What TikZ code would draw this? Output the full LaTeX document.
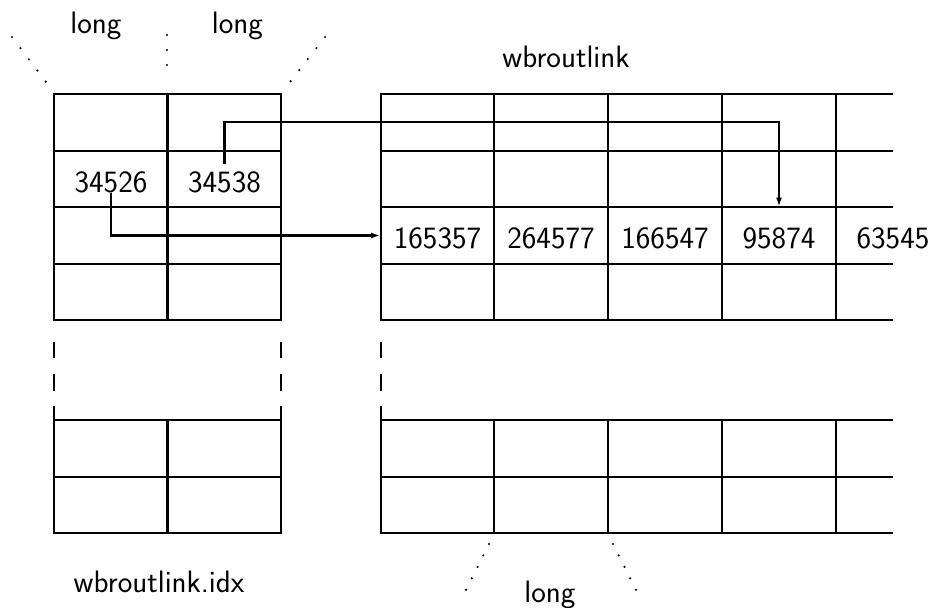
\documentclass[tikz,border=0pt]{standalone}
\usepackage{fontspec}
\usetikzlibrary{arrows.meta}

\tikzset{
  grid/.style={line width=1.15pt, line cap=rect},
  heavy/.style={line width=1.4pt, line cap=rect},
  dotrule/.style={line width=1.2pt, line cap=round, dash pattern=on 0pt off #1},
  dotrule/.default=7pt,
  link/.style={line width=1.3pt, -{Latex[length=4.5pt,width=3pt]}},
  val/.style={inner sep=3.5pt},
  cell/.style={inner sep=0pt, minimum width=57pt, minimum height=28.5pt, text height=12.7pt, text depth=0pt}
}

\begin{document}
\begin{tikzpicture}[x=0.5pt, y=-0.5pt, font=\sffamily\fontsize{15.5}{18}\selectfont]
  \useasboundingbox (0,0) rectangle (931,608);

  \foreach \y in {94,151,264,320,420,477,533}
    \draw[grid] (54,\y) -- (281,\y);
  \draw[heavy] (54,207) -- (281,207);
  \draw[grid] (54,94) -- (54,320) (54,407) -- (54,533);
  \draw[grid] (167.5,94) -- (167.5,320) (167.5,420) -- (167.5,533);
  \draw[heavy] (281,94) -- (281,320) (281,407) -- (281,533);

  \foreach \y in {94,151,264,320,420,477,533}
    \draw[grid] (381,\y) -- (892,\y);
  \draw[heavy] (381,207) -- (892,207);
  \draw[grid] (381,94) -- (381,320) (381,407) -- (381,533);
  \foreach \x in {494,722,836}
    \draw[grid] (\x,94) -- (\x,320) (\x,420) -- (\x,533);
  \draw[heavy] (608,94) -- (608,320) (608,420) -- (608,533);

  \foreach \x in {54,381}
    \draw[grid] (\x,343) -- (\x,357) (\x,375) -- (\x,390);
  \draw[heavy] (281,343) -- (281,357) (281,375) -- (281,390);

  \node[val] (n34526) at (111,182.5) {34526};
  \node[val] (n34538) at (224.5,182.5) {34538};
  \node[cell] (n165357) at (437.5,235.5) {165357};
  \node[cell] (n264577) at (551,235.5) {264577};
  \node[cell] (n166547) at (665,235.5) {166547};
  \node[cell] (n95874) at (779,235.5) {95874};
  \node[cell] (n63545) at (893,235.5) {63545};

  \coordinate (bend) at (0,122);
  \draw[link] (n34538.north) |- (bend -| n95874.north) -- (n95874.north);
  \draw[link] (n34526.base) |- (n165357.west);

  \node (long1) at (96,26) {long};
  \node (long2) at (237.5,26) {long};
  \node (title) at (566,57) {wbroutlink};
  \node (idx) at (159,582) {wbroutlink.idx};
  \node (long3) at (550,595) {long};

  \draw[dotrule] (12,37) -- (46,82);
  \draw[dotrule=7.5pt] (167,35) -- (167,80);
  \draw[dotrule] (325,37) -- (290,82);
  \draw[dotrule=6.4pt] (489,544) -- (466,590);
  \draw[dotrule=6.4pt] (613,544) -- (636,590);
\end{tikzpicture}
\end{document}
